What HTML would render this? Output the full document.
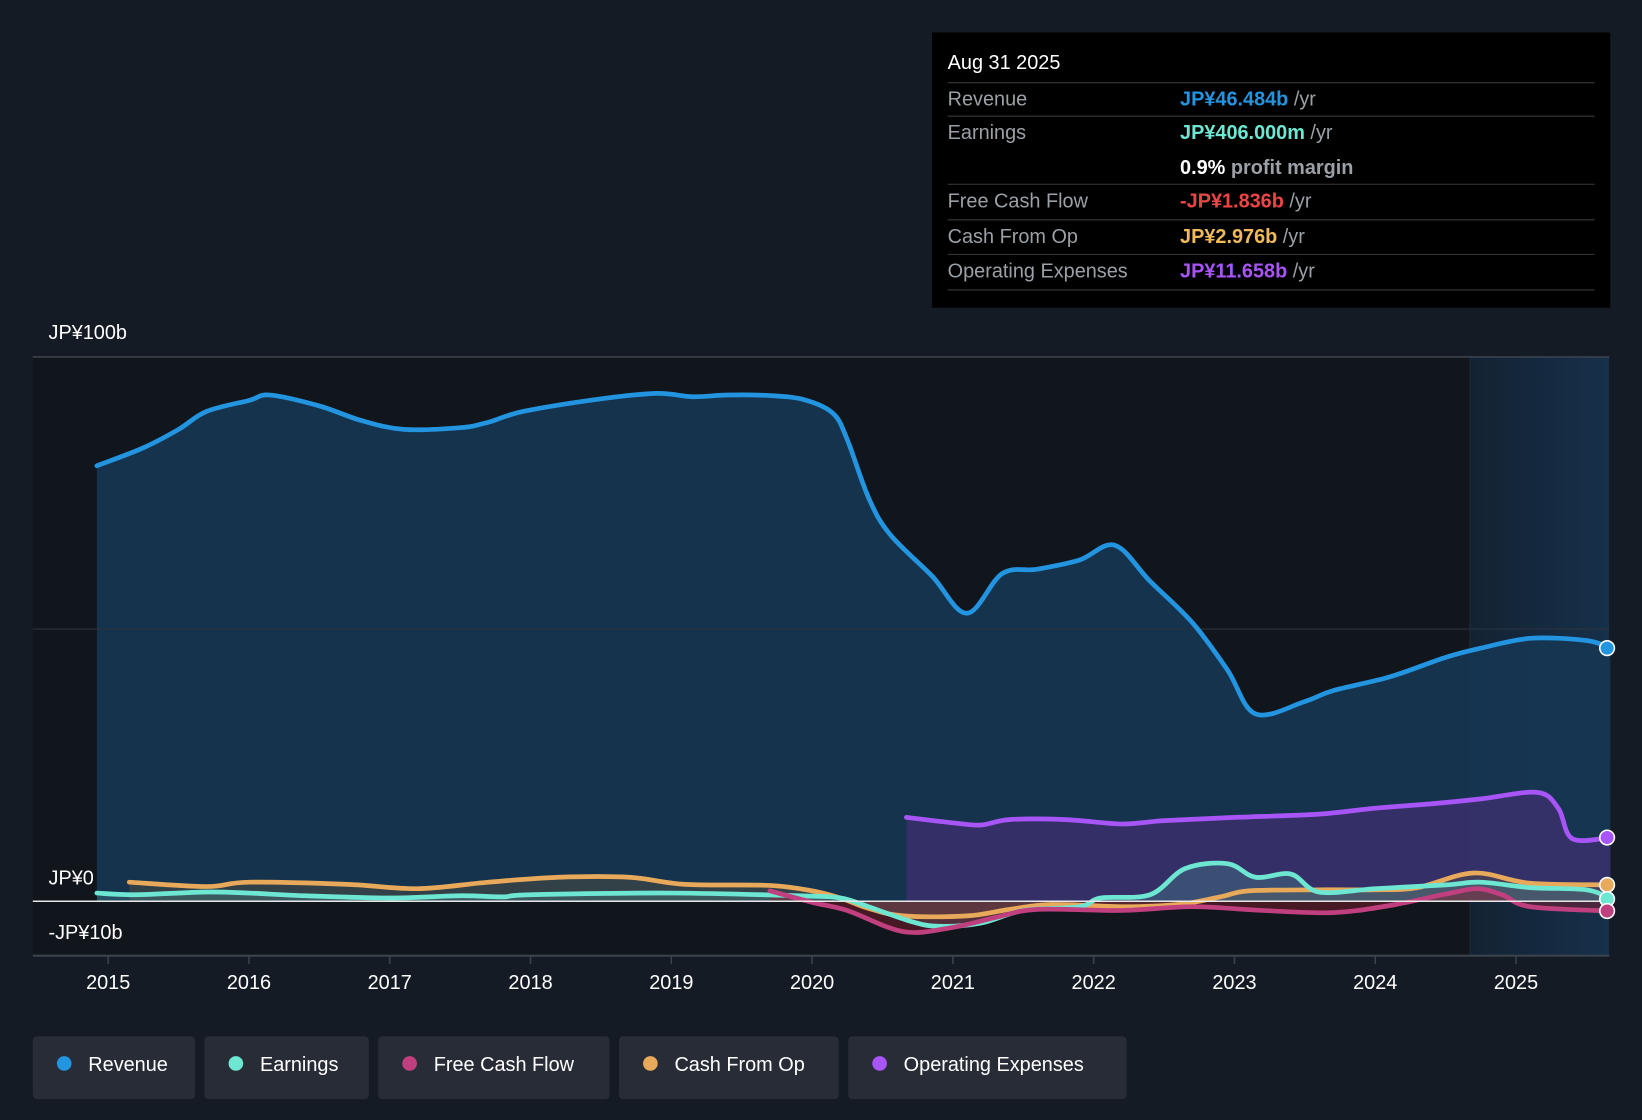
<!DOCTYPE html>
<html><head><meta charset="utf-8"><style>
html,body{margin:0;padding:0;background:#151b24;}
svg{display:block;font-family:"Liberation Sans",Roboto,sans-serif;}
</style></head><body>
<svg id="chart" width="1642" height="1120" viewBox="0 0 1568 1070" xmlns="http://www.w3.org/2000/svg">
<defs><linearGradient id="fg" x1="0" y1="0" x2="1" y2="0"><stop offset="0" stop-color="#132232"/><stop offset="1" stop-color="#16304a"/></linearGradient></defs>
<rect x="0" y="0" width="1568" height="1070" fill="#151b24"/>
<rect x="31" y="341" width="1506" height="572" fill="#11151c"/>
<rect x="1404" y="341" width="133" height="572" fill="url(#fg)"/>
<line x1="1404" y1="341" x2="1404" y2="913" stroke="#1f2c3a" stroke-width="1"/>
<g id="areas"></g>
<line x1="31" y1="601" x2="1537" y2="601" stroke="#2a3340" stroke-width="1"/>
<line x1="31" y1="341" x2="1537" y2="341" stroke="#3a424d" stroke-width="1.5"/>
<line x1="31" y1="913" x2="1537" y2="913" stroke="#3a424d" stroke-width="2"/>
<g id="lines"></g>
<line x1="31" y1="861" x2="1537" y2="861" stroke="#e8e8e8" stroke-width="1.5"/>
<g id="dots"></g>
<g id="xticks"></g>
<text x="46" y="324" fill="#ffffff" font-size="19">JP¥100b</text>
<text x="46" y="845" fill="#ffffff" font-size="19">JP¥0</text>
<text x="46" y="897" fill="#ffffff" font-size="19">-JP¥10b</text>

<g>
<rect x="890" y="31" width="648" height="263" fill="#000000"/>
<text x="905" y="66" fill="#ffffff" font-size="19">Aug 31 2025</text>
<line x1="905" y1="79" x2="1523" y2="79" stroke="#3a3a3a"/>
<text x="905" y="101" fill="#9aa0a6" font-size="19">Revenue</text>
<text x="1127" y="101" font-size="19" font-weight="bold" fill="#2394df">JP¥46.484b <tspan fill="#9aa0a6" font-weight="normal">/yr</tspan></text>
<line x1="905" y1="111" x2="1523" y2="111" stroke="#3a3a3a"/>
<text x="905" y="133" fill="#9aa0a6" font-size="19">Earnings</text>
<text x="1127" y="133" font-size="19" font-weight="bold" fill="#6ee7d2">JP¥406.000m <tspan fill="#9aa0a6" font-weight="normal">/yr</tspan></text>
<text x="1127" y="166" font-size="19" font-weight="bold" fill="#ffffff">0.9% <tspan fill="#9aa0a6">profit margin</tspan></text>
<line x1="905" y1="176" x2="1523" y2="176" stroke="#3a3a3a"/>
<text x="905" y="198" fill="#9aa0a6" font-size="19">Free Cash Flow</text>
<text x="1127" y="198" font-size="19" font-weight="bold" fill="#ef4444">-JP¥1.836b <tspan fill="#9aa0a6" font-weight="normal">/yr</tspan></text>
<line x1="905" y1="210" x2="1523" y2="210" stroke="#3a3a3a"/>
<text x="905" y="232" fill="#9aa0a6" font-size="19">Cash From Op</text>
<text x="1127" y="232" font-size="19" font-weight="bold" fill="#f0b95a">JP¥2.976b <tspan fill="#9aa0a6" font-weight="normal">/yr</tspan></text>
<line x1="905" y1="243" x2="1523" y2="243" stroke="#3a3a3a"/>
<text x="905" y="265" fill="#9aa0a6" font-size="19">Operating Expenses</text>
<text x="1127" y="265" font-size="19" font-weight="bold" fill="#a855f7">JP¥11.658b <tspan fill="#9aa0a6" font-weight="normal">/yr</tspan></text>
<line x1="905" y1="277" x2="1523" y2="277" stroke="#3a3a3a"/>
</g>

<g>
<g><rect x="31" y="990" width="155" height="60" rx="4" fill="#272c36"/><circle cx="61" cy="1016" r="7" fill="#2394df"/><text x="84" y="1023" fill="#fff" font-size="19">Revenue</text></g>
<g><rect x="195" y="990" width="157" height="60" rx="4" fill="#272c36"/><circle cx="225" cy="1016" r="7" fill="#6ee7d2"/><text x="248" y="1023" fill="#fff" font-size="19">Earnings</text></g>
<g><rect x="361" y="990" width="221" height="60" rx="4" fill="#272c36"/><circle cx="391" cy="1016" r="7" fill="#c0407f"/><text x="414" y="1023" fill="#fff" font-size="19">Free Cash Flow</text></g>
<g><rect x="591" y="990" width="210" height="60" rx="4" fill="#272c36"/><circle cx="621" cy="1016" r="7" fill="#e8a95a"/><text x="644" y="1023" fill="#fff" font-size="19">Cash From Op</text></g>
<g><rect x="810" y="990" width="266" height="60" rx="4" fill="#272c36"/><circle cx="840" cy="1016" r="7" fill="#a855f7"/><text x="863" y="1023" fill="#fff" font-size="19">Operating Expenses</text></g>
</g>
</svg>
<script>
const years = [2015,2016,2017,2018,2019,2020,2021,2022,2023,2024,2025];
const revT = [2014.92,2015.25,2015.5,2015.7,2016.0,2016.15,2016.5,2016.8,2017.1,2017.5,2017.7,2017.95,2018.5,2018.9,2019.15,2019.4,2019.7,2019.95,2020.15,2020.25,2020.4,2020.55,2020.85,2021.1,2021.35,2021.6,2021.9,2022.15,2022.4,2022.7,2022.95,2023.15,2023.5,2023.7,2024.1,2024.5,2024.75,2025.1,2025.5,2025.67];
const revV = [80,83.3,86.7,90,92,93,91,88.3,86.7,87,88,90,92.3,93.3,92.7,93,92.9,92.1,89.6,84.8,74.2,67.5,59.8,52.9,60.2,61,62.7,65.4,58.8,51.2,42.5,34.4,36.7,38.7,41.2,44.8,46.5,48.3,47.9,46.5];
const earnT = [2014.92,2015.2,2015.7,2016.0,2016.4,2017.0,2017.5,2017.8,2018.0,2019.0,2019.9,2020.2,2020.4,2020.7,2020.9,2021.2,2021.5,2021.9,2022.05,2022.4,2022.65,2022.95,2023.15,2023.4,2023.6,2024.0,2024.5,2024.75,2025.1,2025.5,2025.67];
const earnV = [1.5,1.2,1.7,1.5,1.0,0.6,1.0,0.8,1.2,1.5,1.0,0.6,-1,-3.7,-4.6,-4,-1.7,-1,0.6,1.2,6,6.9,4.4,5,1.7,2.3,3,3.5,2.5,2.1,0.4];
const fcfT = [2019.7,2020.0,2020.25,2020.65,2021.0,2021.3,2021.6,2022.2,2022.7,2023.2,2023.7,2024.1,2024.5,2024.72,2024.9,2025.1,2025.67];
const fcfV = [1.9,-0.2,-1.7,-5.6,-4.8,-3,-1.5,-1.7,-1,-1.7,-2.1,-0.8,1.3,2.3,1.2,-1,-1.8];
const cfoT = [2015.15,2015.7,2016.0,2016.7,2017.2,2017.7,2018.2,2018.7,2019.1,2019.7,2020.0,2020.2,2020.4,2020.65,2021.1,2021.4,2021.7,2022.2,2022.6,2022.9,2023.1,2023.6,2024.0,2024.3,2024.7,2025.1,2025.67];
const cfoV = [3.5,2.7,3.5,3.1,2.3,3.5,4.4,4.4,3.1,2.9,1.9,0.6,-1.3,-2.7,-2.7,-1.5,-0.6,-1,-0.6,0.8,1.9,2.1,2.1,2.5,5.2,3.3,3.0];
const opexT = [2020.67,2021.0,2021.2,2021.4,2021.8,2022.2,2022.5,2023.0,2023.6,2024.0,2024.4,2024.75,2025.15,2025.3,2025.4,2025.67];
const opexV = [15.4,14.4,14,15,15,14.2,14.8,15.4,16,17.1,17.9,18.8,20,17.1,11.5,11.7];

const NS="http://www.w3.org/2000/svg";
function xS(t){return 103+(t-2015)*134.5;}
function yS(v){return 861-v*5.2;}
function pts(T,V){return T.map((t,i)=>[xS(t),yS(V[i])]);}
function curve(p){
  let d="M"+p[0][0].toFixed(1)+","+p[0][1].toFixed(1);
  for(let i=0;i<p.length-1;i++){
    const p0=p[i-1]||p[i],p1=p[i],p2=p[i+1],p3=p[i+2]||p2;
    const c1x=p1[0]+(p2[0]-p0[0])/6,c1y=p1[1]+(p2[1]-p0[1])/6;
    const c2x=p2[0]-(p3[0]-p1[0])/6,c2y=p2[1]-(p3[1]-p1[1])/6;
    d+=" C"+c1x.toFixed(1)+","+c1y.toFixed(1)+" "+c2x.toFixed(1)+","+c2y.toFixed(1)+" "+p2[0].toFixed(1)+","+p2[1].toFixed(1);
  }
  return d;
}
const series=[
  {n:"revenue",T:revT,V:revV,c:"#2394df",f:"#163652",fo:0.9},
  {n:"operating-expenses",T:opexT,V:opexV,c:"#a855f7",f:"#4a2f7a",fo:0.6},
  {n:"cash-from-op",T:cfoT,V:cfoV,c:"#e8a95a",f:"#6a5a40",fo:0.35},
  {n:"earnings",T:earnT,V:earnV,c:"#6ee7d2",f:"#4a8a90",fo:0.35},
  {n:"free-cash-flow",T:fcfT,V:fcfV,c:"#c0407f",f:"#8a2030",fo:0.45}
];
const areas=document.getElementById("areas"),lines=document.getElementById("lines"),dots=document.getElementById("dots");
series.forEach(s=>{
  const p=pts(s.T,s.V);const d=curve(p);
  const a=document.createElementNS(NS,"path");
  a.setAttribute("d",d+" L"+p[p.length-1][0]+","+yS(0)+" L"+p[0][0]+","+yS(0)+" Z");
  a.setAttribute("fill",s.f);a.setAttribute("fill-opacity",s.fo);
  
  
  areas.appendChild(a);
  const l=document.createElementNS(NS,"path");
  l.setAttribute("d",d);l.setAttribute("fill","none");l.setAttribute("stroke",s.c);
  l.setAttribute("stroke-width","4.5");l.setAttribute("stroke-linejoin","round");l.setAttribute("stroke-linecap","round");
  
  
  lines.appendChild(l);
  const e=p[p.length-1];
  const c=document.createElementNS(NS,"circle");
  c.setAttribute("cx",1535);c.setAttribute("cy",e[1]);c.setAttribute("r",7);
  c.setAttribute("fill",s.c);c.setAttribute("stroke","#fff");c.setAttribute("stroke-width","1.5");
  
  
  dots.appendChild(c);
});
const xt=document.getElementById("xticks");
years.forEach(y=>{
  const x=xS(y);
  const t=document.createElementNS(NS,"line");
  t.setAttribute("x1",x);t.setAttribute("x2",x);t.setAttribute("y1",913);t.setAttribute("y2",921);
  t.setAttribute("stroke","#3a424d");t.setAttribute("stroke-width","1.5");
  
  
  xt.appendChild(t);
  const tx=document.createElementNS(NS,"text");
  tx.setAttribute("x",x);tx.setAttribute("y",945);tx.setAttribute("fill","#fff");
  tx.setAttribute("font-size","19");tx.setAttribute("text-anchor","middle");
  tx.textContent=y;
  
  
  xt.appendChild(tx);
});
</script>
</body></html>
